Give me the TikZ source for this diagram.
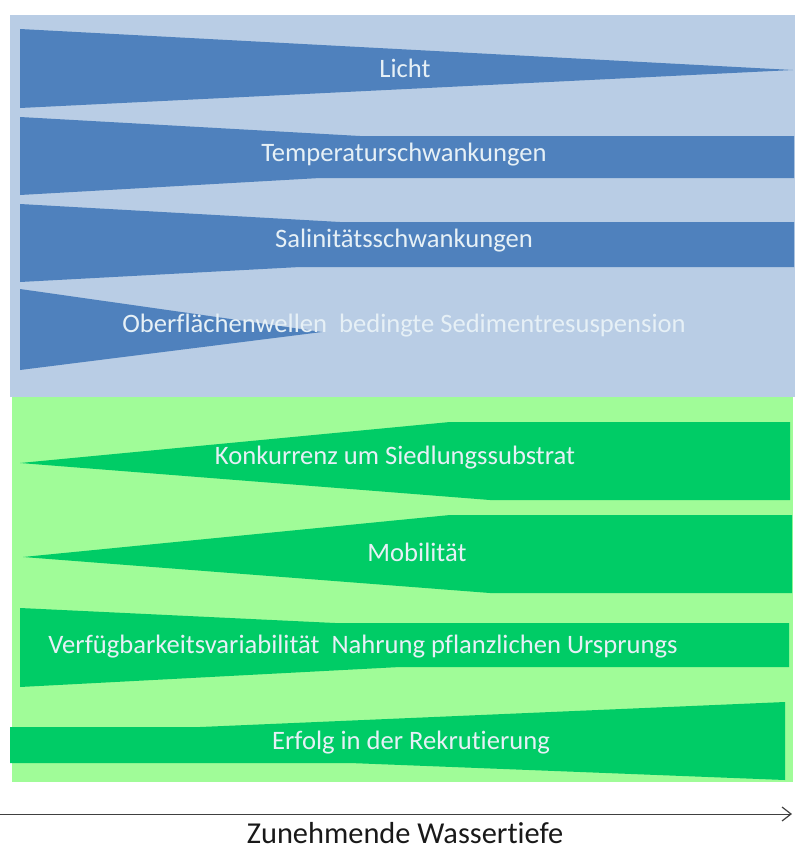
\documentclass[tikz,border=0pt]{standalone}
\usepackage{fontspec}
\setmainfont{Carlito}[Ligatures=NoCommon]
\usetikzlibrary{arrows.meta}
\definecolor{blauh}{HTML}{B9CDE5}
\definecolor{blau}{HTML}{4F81BD}
\definecolor{gruenh}{HTML}{A0FC98}
\definecolor{gruen}{HTML}{00CC66}
\definecolor{schrift}{HTML}{E6F0F6}
\definecolor{achse}{HTML}{404040}
\begin{document}
\begin{tikzpicture}[x=1pt,y=-1pt,
  etikett/.style={text=schrift,font=\fontsize{26.6}{31}\selectfont,inner sep=0pt}]
  \useasboundingbox (0,0) rectangle (795,852);
  % hintergrund
  \fill[blauh] (10,15) rectangle (795,397);
  \fill[gruenh] (12,397) rectangle (793,782);
  % keile oben
  \fill[blau] (20,29) -- (793,70) -- (20,108) -- cycle;
  \fill[blau] (20,117) -- (360,136) -- (794,136) -- (794,178) -- (320,178) -- (20,195) -- cycle;
  \fill[blau] (20,204) -- (340,222) -- (794,222) -- (794,267) -- (300,267) -- (20,282) -- cycle;
  \fill[blau] (20,289) -- (322,332) -- (20,370) -- cycle;
  % keile unten
  \fill[gruen] (20,463) -- (450,422) -- (790,422) -- (790,500) -- (490,500) -- cycle;
  \fill[gruen] (23,557) -- (450,515) -- (792,515) -- (792,593) -- (490,593) -- cycle;
  \fill[gruen] (20,608) -- (335,623) -- (789,623) -- (789,667) -- (400,667) -- (20,687) -- cycle;
  \fill[gruen] (10,727) -- (200,727) -- (785,702) -- (785,780) -- (350,763) -- (10,763) -- cycle;
  % beschriftung
  \node[etikett] (licht) at (405,68) {Licht};
  \node[etikett] (temp) at (404,155) {Temperaturschwankungen};
  \node[etikett] (sal) at (404,241) {Salinitätsschwankungen};
  \node[etikett] (welle) at (404,326) {Oberflächenwellen~ bedingte Sedimentresuspension};
  \node[etikett] (konk) at (395,458) {Konkurrenz um Siedlungssubstrat};
  \node[etikett] (mobil) at (417,552) {Mobilität};
  \node[etikett] (nahr) at (363,647) {Verfügbarkeitsvariabilität~ Nahrung pflanzlichen Ursprungs};
  \node[etikett] (rekr) at (411,743) {Erfolg in der Rekrutierung};
  % achse
  \coordinate (anfang) at (0,814);
  \coordinate (ende) at (792,814);
  \draw[achse,line width=1pt,-{Straight Barb[length=9pt,width=14pt,line width=1.2pt]}] (anfang) -- (ende);
  \node[text=black!90,font=\fontsize{30.4}{36}\selectfont,inner sep=0pt,anchor=base] (tiefe) at (405,843) {Zunehmende Wassertiefe};
\end{tikzpicture}
\end{document}
